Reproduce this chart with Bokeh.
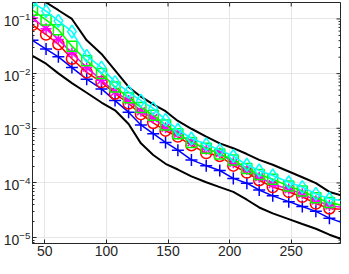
import math
from bokeh.plotting import figure
from bokeh.models import FixedTicker, Range1d
from bokeh.embed import file_html
from bokeh.resources import INLINE

# ---- data ----
x = [40, 51, 61, 72, 84, 96, 107, 118, 128, 138, 148, 158, 169, 181, 192, 203,
     214, 224, 235, 248, 259, 270, 281, 292]

upper = [0.278, 0.2004, 0.1445, 0.1, 0.0406, 0.0229, 0.01142, 0.0057, 0.00378,
         0.00273, 0.00205, 0.00136, 0.00098, 0.000706, 0.00053, 0.000432,
         0.000338, 0.000264, 0.000215, 0.000162, 0.000127, 9.9e-5, 6.85e-5, 5.81e-5]
lower = [0.0211, 0.0152, 0.0101, 0.00671, 0.00446, 0.00296, 0.00213, 0.0012,
         0.00053, 0.000324, 0.000224, 0.000176, 0.000132, 0.000103, 8.4e-5,
         6.85e-5, 4.93e-5, 3.56e-5, 2.78e-5, 2.18e-5, 1.77e-5, 1.45e-5, 1.13e-5, 9.2e-6]
blue = [0.0406, 0.0281, 0.0203, 0.0129, 0.0079, 0.00525, 0.00321, 0.00197,
        0.00115, 0.000798, 0.000552, 0.000398, 0.000264, 0.000207, 0.000169,
        0.000121, 9.9e-5, 7.43e-5, 5.81e-5, 4.55e-5, 3.71e-5, 3.02e-5, 2.27e-5, 1.85e-5]
red = [0.0782, 0.0519, 0.0345, 0.0187, 0.01052, 0.00699, 0.00428, 0.00284,
       0.00181, 0.00125, 0.000903, 0.000706, 0.000489, 0.000352, 0.000311,
       0.000207, 0.000155, 0.000112, 8.4e-5, 6.85e-5, 5.58e-5, 4.19e-5, 3.41e-5, 3.28e-5]
magenta = [0.1042, 0.0664, 0.0423, 0.0239, 0.0129, 0.00759, 0.00464, 0.00321,
           0.00205, 0.00154, 0.00102, 0.000798, 0.000552, 0.000415, 0.000352,
           0.000234, 0.000176, 0.000127, 9.5e-5, 7.74e-5, 6.31e-5, 4.74e-5, 3.86e-5, 3.56e-5]
green = [0.1445, 0.096, 0.0637, 0.0318, 0.0172, 0.0101, 0.0057, 0.00363,
         0.00241, 0.00174, 0.00115, 0.000798, 0.000552, 0.000432, 0.000338,
         0.000264, 0.000183, 0.000143, 0.000117, 8.76e-5, 7.13e-5, 5.36e-5, 4.37e-5, 3.86e-5]
cyan = [0.2004, 0.1388, 0.0922, 0.0587, 0.0211, 0.0129, 0.00699, 0.00464,
        0.00321, 0.00231, 0.00142, 0.00094, 0.00065, 0.000509, 0.000398,
        0.000311, 0.000215, 0.000169, 0.000137, 0.000103, 8.4e-5, 6.31e-5, 5.14e-5, 4.74e-5]

x_ticks = [50, 100, 150, 200, 250]
y_ticks = [1e-5, 1e-4, 1e-3, 1e-2, 1e-1]
y_minor = [m * 10.0 ** e for e in range(-6, 0) for m in range(2, 10)]

X_MIN, X_MAX = 40, 290
Y_MIN, Y_MAX = 7.8e-6, 0.2

n_mark = 23  # markers drawn on the first 23 samples

AX = "#262626"
FONT = "Liberation Sans"

p = figure(width=341, height=258, y_axis_type="log",
           x_range=Range1d(X_MIN, X_MAX), y_range=Range1d(Y_MIN, Y_MAX),
           output_backend="svg", toolbar_location=None,
           min_border_left=25, min_border_right=1, min_border_top=2,
           min_border_bottom=0)
p.background_fill_color = "white"
p.border_fill_color = "white"
p.outline_line_color = AX
p.outline_line_width = 1

xt = FixedTicker(ticks=x_ticks, minor_ticks=[])
yt = FixedTicker(ticks=y_ticks, minor_ticks=[v for v in y_minor if Y_MIN <= v <= Y_MAX])

p.xaxis.ticker = xt
p.yaxis.ticker = yt
p.xgrid.ticker = xt
p.ygrid.ticker = yt
for g in (p.xgrid, p.ygrid):
    g.grid_line_color = "#e6e6e6"
    g.grid_line_width = 1

for ax in (p.xaxis, p.yaxis):
    ax.axis_line_color = AX
    ax.major_tick_line_color = AX
    ax.minor_tick_line_color = AX
    ax.major_tick_in = 4
    ax.major_tick_out = 0
    ax.minor_tick_in = 2
    ax.minor_tick_out = 0
    ax.major_label_text_font = FONT
    ax.major_label_text_font_size = "14px"
    ax.major_label_text_color = AX
    ax.major_label_standoff = 2

# inward ticks on the top and right edges of the box (half of each dash is clipped)
p.scatter(x_ticks, [Y_MAX] * len(x_ticks), marker="dash", angle=math.pi / 2,
          size=8, line_color=AX, line_width=1)
p.scatter([X_MAX] * len(y_ticks), y_ticks, marker="dash", size=8,
          line_color=AX, line_width=1)
ymr = [v for v in y_minor if Y_MIN <= v <= Y_MAX]
p.scatter([X_MAX] * len(ymr), ymr, marker="dash", size=4, line_color=AX, line_width=1)

xm = x[:n_mark]

p.line(x, lower, line_color="black", line_width=2)
p.line(x, upper, line_color="black", line_width=2)

p.line(x, blue, line_color="blue", line_width=1.5)
p.scatter(xm, blue[:n_mark], marker="cross", size=12, line_color="blue", line_width=1.5)

p.line(x, red, line_color="red", line_width=1.5)
p.scatter(xm, red[:n_mark], marker="circle", size=11, line_color="red",
          fill_color=None, line_width=1.5)

p.line(x, magenta, line_color="magenta", line_width=1.5)
p.scatter(xm, magenta[:n_mark], marker="asterisk", size=11, line_color="magenta",
          line_width=1.5)

p.line(x, green, line_color="lime", line_width=1.5)
p.scatter(xm, green[:n_mark], marker="square", size=10, line_color="lime",
          fill_color=None, line_width=1.5)

p.line(x, cyan, line_color="cyan", line_width=1.5)
p.scatter(xm, cyan[:n_mark], marker="diamond", size=13, line_color="cyan",
          fill_color=None, line_width=1.5)

open("out.html", "w").write(file_html(p, INLINE))
